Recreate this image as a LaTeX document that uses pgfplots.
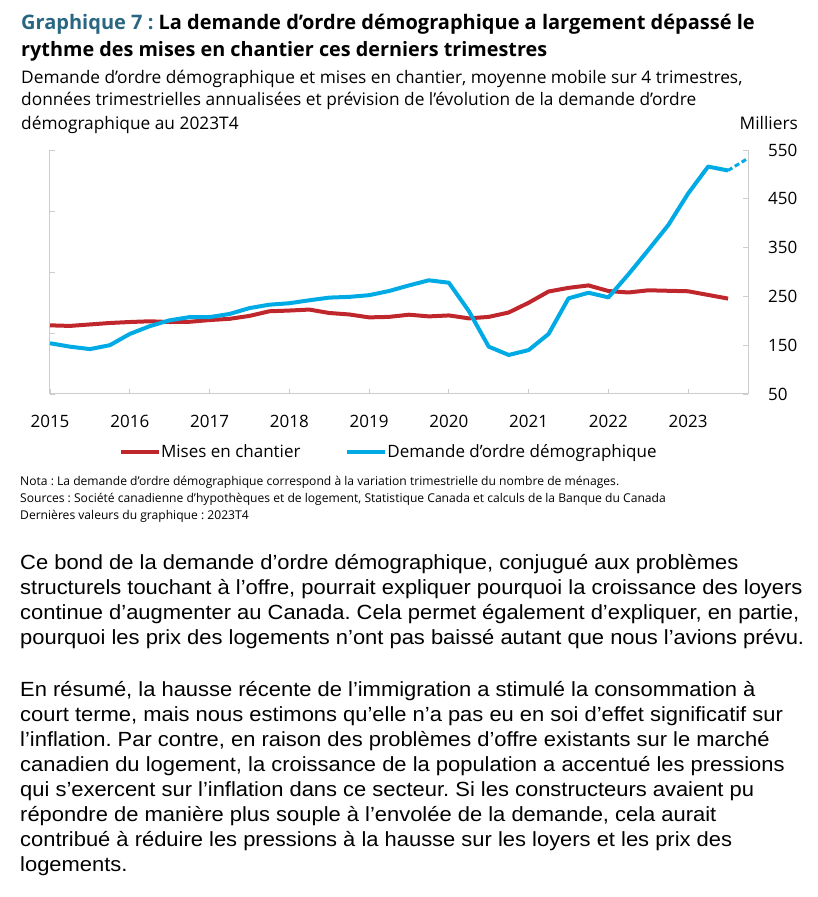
\documentclass[border=0pt]{standalone}
\usepackage{fontspec}
\setmainfont{Open Sans}
\newfontfamily\arialfont[FakeStretch=1.07]{Liberation Sans}
\usepackage{pgfplots}
\pgfplotsset{compat=1.18}
\definecolor{redS}{RGB}{192,39,45}
\definecolor{blueS}{RGB}{0,170,228}
\definecolor{titleC}{RGB}{40,102,130}
\definecolor{axisC}{RGB}{205,205,205}

\pgfplotstableread{
i red blue
0 190.7 154
1 189.5 147
2 192.5 142
3 195.5 150
4 197.5 173
5 199 189
6 197.5 201
7 198 207.5
8 201.5 207.5
9 204 214
10 210 226
11 219.5 233
12 221 236
13 223 242
14 216 247.5
15 213 249
16 207 252.5
17 208 261
18 212.5 272.5
19 209 283
20 211 278
21 205 220
22 208 147
23 217 130
24 237 140
25 260 173
26 267.5 246
27 272.5 257.5
28 261 248
29 258 295
30 262.5 345
31 261.5 396
32 260.5 461
33 253 516
34 245.5 508
}\datatable

\pgfplotstableread{
i blue
34 508
35 533
}\forecast

\begin{document}
\frenchspacing
\begin{tikzpicture}[x=1pt,y=1pt]
\path[use as bounding box] (0,0) rectangle (817,897);

% Titles
\node[anchor=base west, inner sep=0] at (21,867.7) {\fontsize{20}{23}\selectfont\bfseries\textcolor{titleC}{Graphique 7 :} La demande d’ordre démographique a largement dépassé le};
\node[anchor=base west, inner sep=0] at (21,840.3) {\fontsize{19.8}{23}\selectfont\bfseries rythme des mises en chantier ces derniers trimestres};
\node[anchor=base west, inner sep=0] at (21,813.7) {\fontsize{17.3}{20}\selectfont Demande d’ordre démographique et mises en chantier, moyenne mobile sur 4 trimestres,};
\node[anchor=base west, inner sep=0] at (21,791) {\fontsize{17.3}{20}\selectfont données trimestrielles annualisées et prévision de l’évolution de la demande d’ordre};
\node[anchor=base west, inner sep=0] at (21,767.7) {\fontsize{17.3}{20}\selectfont démographique au 2023T4};
\node[anchor=base east, inner sep=0] at (798,767.7) {\fontsize{17.3}{20}\selectfont Milliers};

% left axis (no labels)
\begin{axis}[at={(50pt,503pt)}, anchor=south west, width=698pt, height=244pt, scale only axis,
  xmin=0, xmax=35, ymin=50, ymax=550,
  axis y line*=left, axis x line=none,
  ytick={50,175,300,425,550}, yticklabels={},
  xtick=\empty,
  tick align=inside, major tick length=5pt,
  axis line style={-, draw=axisC, line width=1pt},
  major tick style={draw=axisC, line width=0.8pt},
]
\end{axis}

\begin{axis}[at={(50pt,503pt)}, anchor=south west, width=698pt, height=244pt, scale only axis,
  xmin=0, xmax=35, ymin=50, ymax=550,
  axis y line*=right, axis x line*=bottom,
  ytick={50,150,250,350,450,550}, yticklabels={50,150,250,350,450,550},
  xtick={0,4,...,32}, xticklabels={2015,2016,2017,2018,2019,2020,2021,2022,2023},
  tick align=inside, major tick length=5pt,
  axis line style={-, draw=axisC, line width=1pt},
  major tick style={draw=axisC, line width=0.8pt},
  yticklabel style={anchor=west, inner sep=0pt, xshift=20pt, font=\fontsize{17}{20}\selectfont},
  xticklabel style={anchor=north, inner sep=0pt, yshift=-21pt, font=\fontsize{17}{20}\selectfont},
  clip=false,
  legend style={at={(0.484,-0.2377)}, anchor=center, draw=none, fill=none,
    legend columns=2, font=\fontsize{17}{20}\selectfont,
    /tikz/every even column/.append style={column sep=44pt},
    nodes={inner sep=0.5pt}},
  legend image code/.code={\draw[#1, line width=4pt] (0pt,0pt) -- (38pt,0pt);},
]
\addplot[redS, line width=4pt, line join=round] table[x=i, y=red] {\datatable};
\addlegendentry{Mises en chantier}
\addplot[blueS, line width=4pt, line join=round] table[x=i, y=blue] {\datatable};
\addlegendentry{Demande d'ordre démographique}
\addplot[blueS, line width=3pt, dash pattern=on 5pt off 3pt, forget plot] table[x=i, y=blue] {\forecast};
\end{axis}

% Notes
\node[anchor=base west, inner sep=0] at (20,411) {\fontsize{12.1}{14}\selectfont Nota : La demande d'ordre démographique correspond à la variation trimestrielle du nombre de ménages.};
\node[anchor=base west, inner sep=0] at (20,394.3) {\fontsize{12.1}{14}\selectfont Sources : Société canadienne d'hypothèques et de logement, Statistique Canada et calculs de la Banque du Canada};
\node[anchor=base west, inner sep=0] at (20,377) {\fontsize{12.1}{14}\selectfont Dernières valeurs du graphique : 2023T4};

% Paragraphs
\begin{scope}[every node/.style={anchor=base west, inner sep=0, font=\arialfont\fontsize{20.5}{24}\selectfont}]
\node at (20,327) {Ce bond de la demande d’ordre démographique, conjugué aux problèmes};
\node at (20,302) {structurels touchant à l’offre, pourrait expliquer pourquoi la croissance des loyers};
\node at (20,277) {continue d’augmenter au Canada. Cela permet également d’expliquer, en partie,};
\node at (20,252) {pourquoi les prix des logements n’ont pas baissé autant que nous l’avions prévu.};
\node at (20,200) {En résumé, la hausse récente de l’immigration a stimulé la consommation à};
\node at (20,175) {court terme, mais nous estimons qu’elle n’a pas eu en soi d’effet significatif sur};
\node at (20,150) {l’inflation. Par contre, en raison des problèmes d’offre existants sur le marché};
\node at (20,125) {canadien du logement, la croissance de la population a accentué les pressions};
\node at (20,100) {qui s’exercent sur l’inflation dans ce secteur. Si les constructeurs avaient pu};
\node at (20,75) {répondre de manière plus souple à l’envolée de la demande, cela aurait};
\node at (20,50) {contribué à réduire les pressions à la hausse sur les loyers et les prix des};
\node at (20,25) {logements.};
\end{scope}
\end{tikzpicture}
\end{document}
